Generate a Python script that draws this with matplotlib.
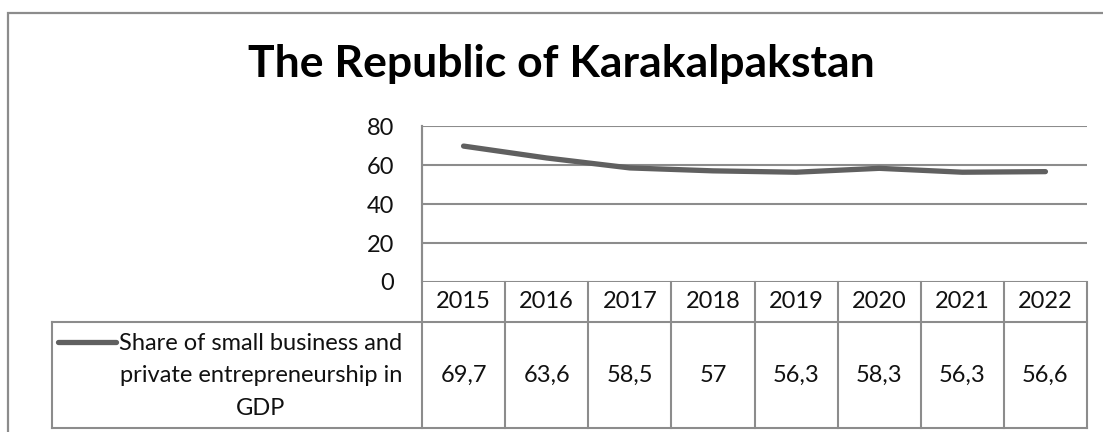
import matplotlib
matplotlib.use("Agg")
import matplotlib.pyplot as plt
from matplotlib import transforms
from matplotlib.patches import Rectangle

plt.rcParams["font.family"] = ["Lato", "DejaVu Sans"]

title = "The Republic of Karakalpakstan"
years = ["2015", "2016", "2017", "2018", "2019", "2020", "2021", "2022"]
share = [69.7, 63.6, 58.5, 57.0, 56.3, 58.3, 56.3, 56.6]
series_label = "Share of small business and\nprivate entrepreneurship in\nGDP"
y_ticks = [0, 20, 40, 60, 80]

W, H = 1103, 432
GRID = "#8c8c8c"
LINE = "#606060"
TXT = "#111111"
FS = 17


def fx(px):
    return px / W


def fy(py):
    return 1 - py / H


fig = plt.figure(figsize=(W / 100, H / 100), dpi=100)

# chart frame, runs off the right and bottom edges
fig.add_artist(Rectangle((fx(8), -0.2), 1.5, fy(13) + 0.2, transform=fig.transFigure,
                         fill=False, ec=GRID, lw=1.6))

fig.text(fx(561), fy(64), title, ha="center", va="center", fontsize=32,
         fontweight="bold", color="black")

# plot area
ax = fig.add_axes([fx(422), fy(282), fx(1087) - fx(422), fy(126) - fy(282)])
x = list(range(len(years)))
ax.plot(x, share, color=LINE, lw=3.8, solid_capstyle="round", solid_joinstyle="round", zorder=3)
ax.set_xlim(-0.5, len(years) - 0.5)
ax.set_ylim(0, 80)
ax.set_yticks(y_ticks)
ax.set_yticklabels([str(t) for t in y_ticks], fontsize=FS, color=TXT)
ax.tick_params(axis="y", length=0, pad=20)
ax.set_xticks([])
ax.yaxis.grid(True, color=GRID, lw=1.5)
ax.set_axisbelow(True)
for side in ["top", "right", "bottom"]:
    ax.spines[side].set_visible(False)
ax.spines["left"].set_color(GRID)
ax.spines["left"].set_linewidth(1.5)

# data table below the plot: x in data units, y in pixels converted to axes fraction
ax_h = 282 - 126
bt = transforms.blended_transform_factory(ax.transData, ax.transAxes)
y_head = -(322 - 282) / ax_h
y_bot = -(428 - 282) / ax_h
col_w = (1087 - 422) / len(years)
x_leg = -0.5 - (422 - 52) / col_w

kw = dict(transform=bt, color=GRID, lw=1.5, clip_on=False, solid_capstyle="projecting")
for i in range(len(years) + 1):
    xe = i - 0.5
    top = 1 if i == 0 else 0
    ax.plot([xe, xe], [top, y_bot], **kw)
ax.plot([x_leg, len(years) - 0.5], [y_head, y_head], **kw)
ax.plot([x_leg, len(years) - 0.5], [y_bot, y_bot], **kw)
ax.plot([x_leg, x_leg], [y_head, y_bot], **kw)

for i, (yr, v) in enumerate(zip(years, share)):
    ax.text(i, -(302 - 282) / ax_h, yr, transform=bt, ha="center", va="center",
            fontsize=FS, color=TXT)
    ax.text(i, (y_head + y_bot) / 2, f"{v:g}".replace(".", ","), transform=bt,
            ha="center", va="center", fontsize=FS, color=TXT)

# series key inside the row label cell
sw0 = -0.5 - (422 - 58) / col_w
sw1 = -0.5 - (422 - 116) / col_w
y_sw = -(342 - 282) / ax_h
ax.plot([sw0, sw1], [y_sw, y_sw], transform=bt, color=LINE, lw=3.8,
        solid_capstyle="round", clip_on=False)
ax.text(-0.5 - (422 - 261) / col_w, -(376 - 282) / ax_h, series_label, transform=bt,
        ha="center", va="center", multialignment="center", fontsize=FS,
        linespacing=1.68, color=TXT)

fig.savefig("out.png", dpi=100)
